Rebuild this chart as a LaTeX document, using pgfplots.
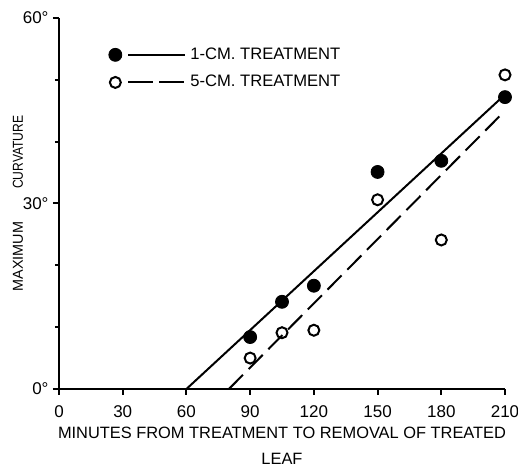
\documentclass[border=0pt]{standalone}
\usepackage{fontspec}
\setmainfont{Liberation Sans}
\usepackage{graphicx}
\usepackage{pgfplots}
\pgfplotsset{compat=1.18}
\begin{document}
\begin{tikzpicture}
\begin{axis}[
  name=ax,
  scale only axis, width=223pt, height=185.5pt,
  xmin=0, xmax=210, ymin=0, ymax=60,
  axis lines=left, axis line style={line width=1.1pt, -},
  xtick={0,30,60,90,120,150,180,210}, ytick={0,30,60},
  minor ytick={10,20,40,50},
  yticklabels={0°,30°,60°},
  tick align=outside, major tick length=3pt, minor tick length=2pt,
  tick style={line width=1pt, black},
  font=\fontsize{8.5}{10}\selectfont,
  xticklabel style={yshift=-1.7pt},
  yticklabel style={xshift=1.3pt},
  /pgf/number format/assume math mode=true,
  xlabel={MINUTES FROM TREATMENT TO REMOVAL OF TREATED\\LEAF},
  xlabel style={align=center, at={(axis description cs:0.5,0)}, yshift=-15.4pt, anchor=north,
    font=\fontsize{8.2}{13}\selectfont},
  ylabel={\fontsize{7.2}{9}\selectfont MAXIMUM\hspace{16.5pt}\scalebox{0.84}[1]{CURVATURE}},
  ylabel style={at={(axis description cs:-0.092,0.5)}, anchor=center},
  clip=false,
  legend style={at={(rel axis cs:0.0965,0.943)}, anchor=north west, draw=none, fill=none,
    font=\fontsize{8.3}{9.5}\selectfont, row sep=2.5pt},
  legend cell align=left,
]
\addplot[line width=1pt, black, forget plot] coordinates {(60,0) (209,47.3)};
\addplot[line width=1pt, black, dash pattern=on 10pt off 4pt, forget plot] coordinates {(80,0) (210,45)};
\addplot[only marks, mark=*, mark size=3.25pt, black,
  legend image code/.code={\draw[black, fill=black] (0pt,0pt) circle (3.25pt); \draw[line width=1pt] (6.5pt,0pt) -- (35pt,0pt);}]
  coordinates {(90,8.4) (105,14.1) (120,16.7) (150,35.1) (180,36.9) (210,47.2)};
\addlegendentry{1-CM. TREATMENT}
\addplot[only marks, mark=o, mark size=2.75pt, black, mark options={line width=1pt},
  legend image code/.code={\draw[black, line width=1pt] (0pt,0pt) circle (2.75pt); \draw[line width=1pt, dash pattern=on 12.5pt off 3pt] (6.5pt,0pt) -- (35pt,0pt);}]
  coordinates {(90,5.0) (105,9.1) (120,9.5) (150,30.6) (180,24.1) (210,50.8)};
\addlegendentry{5-CM. TREATMENT}
\end{axis}
\pgfresetboundingbox
\path ([shift={(-29.5pt,-38.8pt)}]ax.south west) rectangle ([shift={(6.5pt,9pt)}]ax.north east);
\end{tikzpicture}
\end{document}
